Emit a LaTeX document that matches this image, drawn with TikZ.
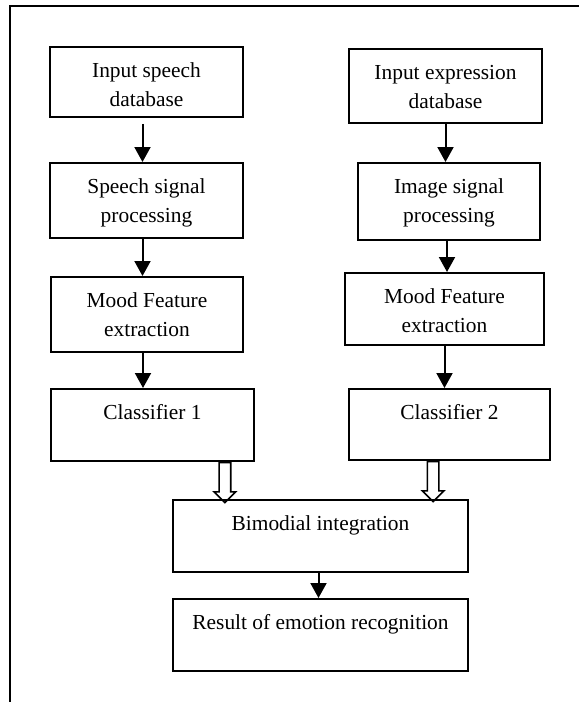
\documentclass[tikz,border=0pt]{standalone}
\usepackage{fontspec}
\setmainfont{Liberation Serif}
\usetikzlibrary{arrows.meta}
\usetikzlibrary{shapes.arrows}
\tikzset{x=0.5pt, y=-0.5pt,
block/.style 2 args={ % Sets the properties for each box
draw,
line width=0.9pt,
align=center,
anchor=north,
inner sep=0pt,
text height=15.5pt, % Text sits in the upper part of the box
minimum width=#1,
text depth=#2},
twoline/.style={text height=30pt}, % Two lines of text: baseline is the last one
flow/.style={ % Plain arrows down a column
draw,
line width=1pt,
-{Triangle[length=7.5pt, width=8pt]}},
hollow/.style={ % Open arrows into the integration box
single arrow,
draw,
line width=0.8pt,
anchor=tail,
rotate=-90,
inner sep=0pt,
text height=2.5pt,
text depth=2.5pt,
minimum height=20pt,
single arrow head extend=2.5pt,
single arrow tip angle=90},
every node/.style={font=\fontsize{10.7pt}{14.5pt}\selectfont}}

\begin{document}
\begin{tikzpicture}
\useasboundingbox (0,0) rectangle (579,702);
\draw[line width=1pt] (10,702) -- (10,6) -- (579,6);

\node[block={96.5pt}{5pt}, twoline] (speech) at (146.5,46) {Input speech\\database};
\node[block={96.5pt}{7.5pt}, twoline] (sproc) at (146.5,162) {Speech signal\\processing};
\node[block={96pt}{7.5pt}, twoline] (sfeat) at (147,276) {Mood Feature\\extraction};
\node[block={101.5pt}{20.5pt}] (class1) at (152.5,388) {Classifier 1};

\node[block={96.5pt}{7pt}, twoline] (expr) at (445.5,48) {Input expression\\database};
\node[block={91pt}{8.5pt}, twoline] (iproc) at (449,162) {Image signal\\processing};
\node[block={99.5pt}{6pt}, twoline] (ifeat) at (444.5,272) {Mood Feature\\extraction};
\node[block={100.5pt}{20pt}] (class2) at (449.5,388) {Classifier 2};

\node[block={147.5pt}{20.5pt}] (bimod) at (320.5,499) {Bimodial integration};
\node[block={147.5pt}{20.5pt}] (result) at (320.5,598) {Result of emotion recognition};

\draw[flow, shorten <=3pt] ([xshift=-2pt]speech.south) -- ([xshift=-2pt]speech.south |- sproc.north);
\draw[flow] ([xshift=-2pt]sproc.south) -- ([xshift=-2pt]sproc.south |- sfeat.north);
\draw[flow] ([xshift=-2pt]sfeat.south) -- ([xshift=-2pt]sfeat.south |- class1.north);

\draw[flow] (expr.south) -- (expr.south |- iproc.north);
\draw[flow] ([xshift=-1pt]iproc.south) -- ([xshift=-1pt]iproc.south |- ifeat.north);
\draw[flow] (ifeat.south) -- (ifeat.south |- class2.north);

\node[hollow] (join1) at ([xshift=-15pt]class1.south east) {};
\node[hollow] (join2) at ([xshift=42.5pt]class2.south west) {};

\draw[flow] ([xshift=-1pt]bimod.south) -- ([xshift=-1pt]result.north);
\end{tikzpicture}
\end{document}
